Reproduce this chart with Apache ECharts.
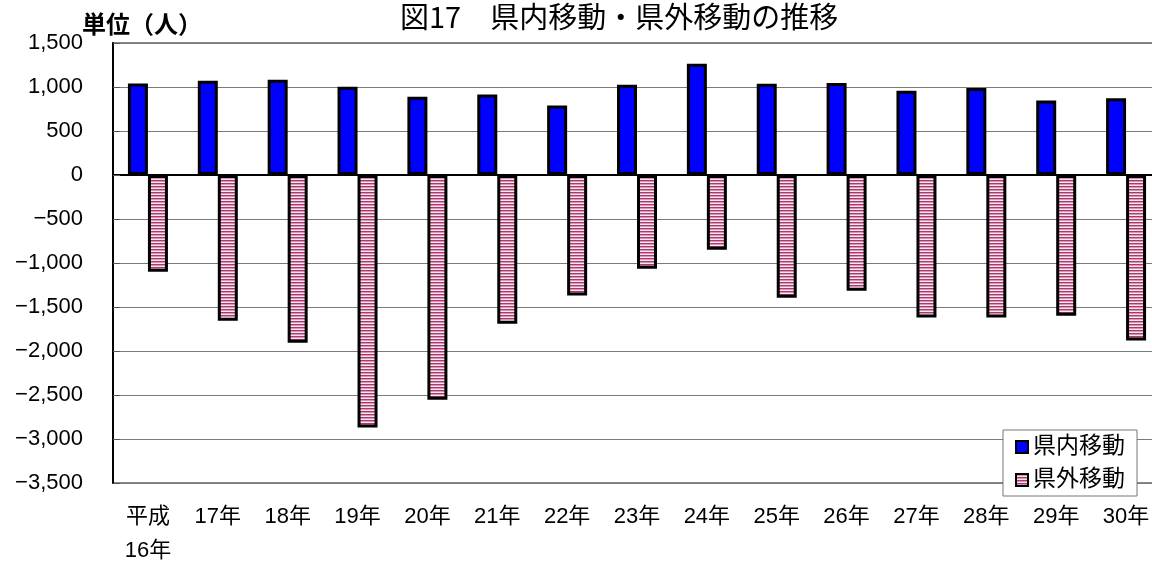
<!DOCTYPE html>
<html>
<head>
<meta charset="utf-8">
<script src="https://cdn.jsdelivr.net/npm/echarts@6/dist/echarts.min.js"></script>
<style>
  html, body { margin: 0; padding: 0; background: #fff; }
  #chart { width: 1152px; height: 561px; }
</style>
</head>
<body>
<div id="chart"></div>
<script>
const categories = ['平成\n16年', '17年', '18年', '19年', '20年', '21年', '22年', '23年',
    '24年', '25年', '26年', '27年', '28年', '29年', '30年'];
const inPref = [1040, 1071, 1083, 1003, 890, 915, 790, 1025, 1265, 1037, 1045, 958, 989, 848, 871];
const outPref = [-1099, -1655, -1905, -2868, -2553, -1690, -1370, -1065, -849, -1395, -1315, -1620, -1620, -1600, -1880];
const yTicks = { min: -3500, max: 1500, step: 500 };

// horizontal stripes for the 県外 bars
function stripes() {
    const c = document.createElement('canvas');
    c.width = 4; c.height = 3;
    const g = c.getContext('2d');
    g.fillStyle = '#a83a70'; g.fillRect(0, 0, 4, 1);
    g.fillStyle = '#d995b3'; g.fillRect(0, 1, 4, 1);
    g.fillStyle = '#f8e6ee'; g.fillRect(0, 2, 4, 1);
    return { image: c, repeat: 'repeat' };
}

function fmt(v) {
    const s = Math.abs(v).toLocaleString('en-US');
    return v < 0 ? '\u2212' + s : s;
}

const font = "'Liberation Sans', 'Noto Sans CJK JP', sans-serif";
const chart = echarts.init(document.getElementById('chart'));

chart.setOption({
    animation: false,
    title: [
        {
            text: '図17　県内移動・県外移動の推移',
            left: 395, top: -3,
            textStyle: { fontFamily: "'Noto Sans CJK JP'", fontSize: 29, fontWeight: 'normal', color: '#000' },
        },
        {
            text: '単位（人）',
            left: 77, top: 7,
            textStyle: { fontFamily: "'Noto Sans CJK JP'", fontSize: 24, fontWeight: 'bold', color: '#000' },
        },
    ],
    legend: {
        orient: 'vertical',
        left: 1003, top: 430,
        padding: [4, 12, 3, 12],
        itemGap: 7,
        itemWidth: 12, itemHeight: 12,
        backgroundColor: '#fff',
        borderColor: '#777', borderWidth: 1,
        icon: 'rect',
        textStyle: { fontFamily: font, fontSize: 23, lineHeight: 26, color: '#000' },
    },
    grid: {
        left: 113, top: 43, width: 1048, height: 440,
        outerBoundsMode: 'none',
        show: true, borderColor: '#8a8a8a', borderWidth: 2,
    },
    xAxis: [
        {
            type: 'category', data: categories,
            axisLine: { onZero: false, show: false },
            axisTick: { show: false },
            axisLabel: { fontFamily: font, fontSize: 22, lineHeight: 34, margin: 17, color: '#000', interval: 0 },
        },
        {
            type: 'category', data: categories, position: 'bottom',
            axisLine: { onZero: true, onZeroAxisIndex: 0, lineStyle: { color: '#000', width: 2 } },
            axisTick: { inside: true, length: 6, lineStyle: { color: '#999', width: 2 } },
            axisLabel: { show: false },
        },
    ],
    yAxis: {
        type: 'value', min: yTicks.min, max: yTicks.max, interval: yTicks.step,
        axisLine: { show: true, lineStyle: { color: '#000', width: 2 } },
        axisTick: { show: true, inside: true, length: 7, lineStyle: { color: '#555' } },
        splitLine: { lineStyle: { color: '#7a7a7a', width: 1 } },
        axisLabel: { fontFamily: font, fontSize: 22, margin: 30, color: '#000', formatter: fmt },
    },
    series: [
        {
            name: '県内移動', type: 'bar', data: inPref,
            barWidth: 20, barGap: '0%',
            itemStyle: { color: '#0000ff', borderColor: '#000', borderWidth: 3 },
        },
        {
            name: '県外移動', type: 'bar', data: outPref,
            barWidth: 20, barGap: '0%',
            itemStyle: { color: stripes(), borderColor: '#000', borderWidth: 3 },
        },
    ],
});
</script>
</body>
</html>
